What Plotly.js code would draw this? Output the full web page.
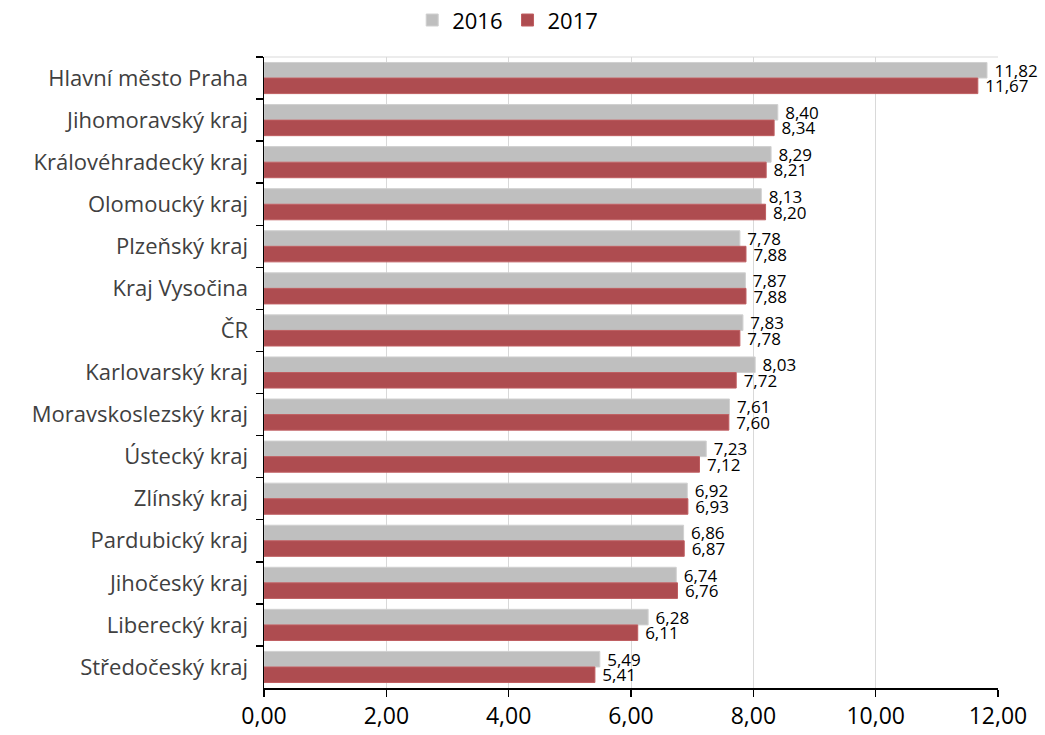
<!DOCTYPE html>
<html>
<head>
<meta charset="utf-8">
<script src="https://cdn.plot.ly/plotly-3.0.1.min.js"></script>
<style>html,body{margin:0;padding:0;background:#fff;}#chart{width:1045px;height:735px;}</style>
</head>
<body>
<div id="chart"></div>
<script>
const categories = ["Hlavní město Praha","Jihomoravský kraj","Královéhradecký kraj","Olomoucký kraj","Plzeňský kraj","Kraj Vysočina","ČR","Karlovarský kraj","Moravskoslezský kraj","Ústecký kraj","Zlínský kraj","Pardubický kraj","Jihočeský kraj","Liberecký kraj","Středočeský kraj"];
const values2016 = [11.82,8.40,8.29,8.13,7.78,7.87,7.83,8.03,7.61,7.23,6.92,6.86,6.74,6.28,5.49];
const values2017 = [11.67,8.34,8.21,8.20,7.88,7.88,7.78,7.72,7.60,7.12,6.93,6.87,6.76,6.11,5.41];
const tickValues = [0,2,4,6,8,10,12];

const fontFam = "'Open Sans', 'DejaVu Sans', sans-serif";
const common = {
  type: 'bar', orientation: 'h', y: categories,
  texttemplate: ' %{x:.2f}', textposition: 'outside', cliponaxis: false,
  constraintext: 'none',
  textfont: {family: fontFam, size: 17, color: '#000'},
  hoverinfo: 'skip'
};
const data = [
  Object.assign({}, common, {name: '2016', x: values2016, marker: {color: '#BFBFBF', line: {color: '#D0D0D0', width: 1}}}),
  Object.assign({}, common, {name: '2017', x: values2017, marker: {color: '#AE4C50', line: {color: '#BF5E61', width: 1}}})
];
const layout = {
  width: 1045, height: 735,
  margin: {l: 264, r: 47, t: 57, b: 47, autoexpand: false},
  separators: ', ',
  barmode: 'group', bargap: 0.26, bargroupgap: 0,
  font: {family: fontFam, color: '#000'},
  paper_bgcolor: '#fff', plot_bgcolor: '#fff',
  showlegend: true,
  legend: {orientation: 'h', x: 0.332, xanchor: 'center', y: 1.025, yanchor: 'bottom', bgcolor: 'rgba(0,0,0,0)', font: {size: 22, color: '#000'}, traceorder: 'normal', itemwidth: 30},
  xaxis: {
    range: [0, 12], tickvals: tickValues, tickformat: '.2f',
    showgrid: true, gridcolor: '#D9D9D9', gridwidth: 1,
    showline: true, linecolor: '#000', linewidth: 1.5,
    ticks: 'outside', ticklen: 7, tickcolor: '#000', tickwidth: 1.5,
    tickfont: {size: 23, color: '#000'}, zeroline: false, fixedrange: true
  },
  yaxis: {
    type: 'category', autorange: 'reversed',
    showline: true, linecolor: '#000', linewidth: 1.5,
    ticks: 'outside', tickson: 'boundaries', ticklen: 7, tickcolor: '#000', tickwidth: 1.5,
    tickfont: {size: 22, color: '#404040'}, ticklabelstandoff: 10,
    showgrid: false, zeroline: false, fixedrange: true
  },
  shapes: [
    {type: 'line', xref: 'paper', yref: 'paper', x0: 0, x1: 1, y0: 1, y1: 1, line: {color: '#D9D9D9', width: 1}}
  ]
};
Plotly.newPlot('chart', data, layout, {displayModeBar: false, staticPlot: true});
</script>
</body>
</html>
